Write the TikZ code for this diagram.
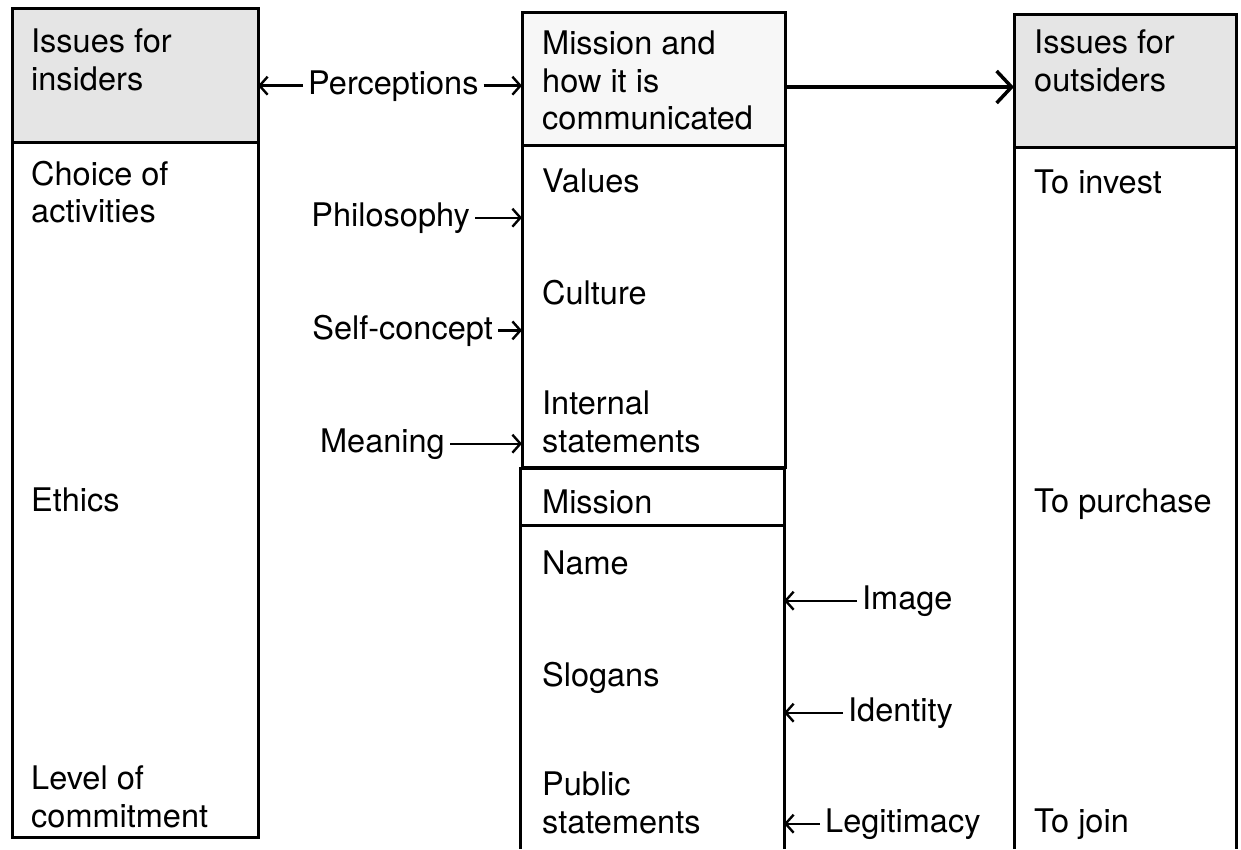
\documentclass[tikz,border=0pt]{standalone}
\usepackage{fontspec}
\setmainfont{TeX Gyre Heros}
\usetikzlibrary{arrows.meta}
\newcommand\colfont{\fontsize{32.5}{37.5}\selectfont}

\begin{document}
\begin{tikzpicture}[x=1pt,y=-1pt,
  frame/.style={draw, line width=3pt, rectangle, inner sep=0pt, outer sep=0pt},
  edge/.style={line width=3pt},
  headfill/.style={fill=black!10},
  headlight/.style={fill=black!3},
  body/.style={anchor=north west, inner sep=0pt, align=left, yshift=26.25pt,
               font=\colfont, execute at begin node=\strut},
  lbl/.style={inner xsep=5pt, inner ysep=0pt, font=\colfont},
  link/.style={line width=2.4pt, -{Straight Barb[length=8pt,width=18pt]}},
  bigarrow/.style={line width=3.5pt, -{Straight Barb[length=15pt,width=32pt]}}
]
\useasboundingbox (0,0) rectangle (1241,849);
\coordinate (bot) at (0,849);

% left column: issues for insiders
\node[frame, headfill, minimum width=246pt, minimum height=134pt] (LH) at (135,75) {};
\node[frame, minimum width=246pt, minimum height=829pt] (L) at (135,422.5) {};

% middle column: mission and how it is communicated
\node[frame, headlight, minimum width=263pt, minimum height=133pt] (MH) at (653.5,78.5) {};
\node[frame, minimum width=263pt, minimum height=455pt] (MT) at (653.5,239.5) {};
\node[frame, minimum width=264pt, minimum height=57pt] (MM) at (652,496.5) {};
\draw[edge] (MM.south west) -- (MM.south west |- bot);
\draw[edge] (MM.south east) -- (MM.south east |- bot);

% right column: issues for outsiders
\node[frame, headfill, minimum width=222pt, minimum height=133pt] (RH) at (1125,80.5) {};
\draw[edge] (RH.south west) -- (RH.south west |- bot);
\draw[edge] (RH.south east) -- (RH.south east |- bot);

% column texts
\node[body] (l1) at (31,55) {Issues for\\insiders};
\node[body] (l2) at (31,187) {Choice of\\activities};
\node[body] (l3) at (31,511) {Ethics};
\node[body] (l4) at (31,792) {Level of\\commitment};

\node[body] (m1) at (542,57) {Mission and\\how it is\\communicated};
\node[body] (m2) at (542,192) {Values};
\node[body] (m3) at (542,304) {Culture};
\node[body] (m4) at (542,417) {Internal\\statements};
\node[body] (m5) at (542,513) {Mission};
\node[body] (m6) at (542,574) {Name};
\node[body] (m7) at (542,686) {Slogans};
\node[body] (m8) at (542,798) {Public\\statements};

\node[body] (r1) at (1034,56) {Issues for\\outsiders};
\node[body] (r2) at (1034,193) {To invest};
\node[body] (r3) at (1034,512) {To purchase};
\node[body] (r4) at (1034,832) {To join};

% labels and their arrows
\node[lbl, anchor=base west] (perc) at (303,94) {Perceptions};
\draw[link] (perc.west) -- (perc.west -| LH.east);
\draw[link] (perc.east) -- (perc.east -| MH.west);

\node[lbl, anchor=base east] (phil) at (475,226) {Philosophy};
\draw[link] (phil.east) -- (phil.east -| MT.west);
\node[lbl, anchor=base east] (self) at (498,339) {Self-concept};
\draw[link] (self.east) -- (self.east -| MT.west);
\node[lbl, anchor=base east] (mean) at (450,452) {Meaning};
\draw[link] (mean.east) -- (mean.east -| MT.west);

\node[lbl, anchor=base west] (img) at (857,609) {Image};
\draw[link] (img.west) -- (img.west -| MM.east);
\node[lbl, anchor=base west] (ident) at (843,721) {Identity};
\draw[link] (ident.west) -- (ident.west -| MM.east);
\node[lbl, anchor=base west] (legit) at (820,832) {Legitimacy};
\draw[link] (legit.west) -- (legit.west -| MM.east);

% main flow from the mission to the outsiders
\draw[bigarrow] ([yshift=-8.5pt]MH.east) -- ([yshift=-8.5pt]MH.east -| RH.west);
\end{tikzpicture}
\end{document}
